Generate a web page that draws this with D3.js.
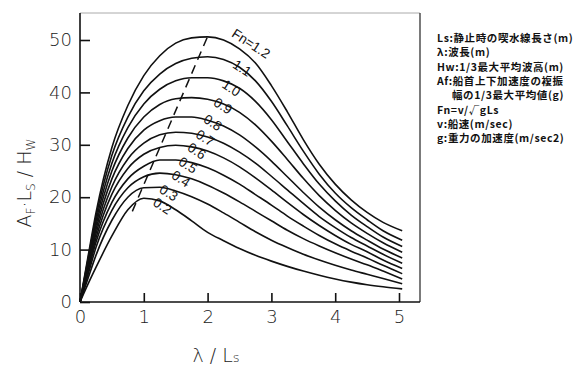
<!DOCTYPE html>
<html><head><meta charset="utf-8">
<script src="https://cdn.jsdelivr.net/npm/d3@7/dist/d3.min.js"></script>
<style>body{margin:0;background:#fff}svg{display:block}</style>
</head><body>
<svg id="c" width="585" height="367"></svg>
<script>
// ---- data ----
const lambda = [0, 0.125, 0.25, 0.5, 0.75, 1.0, 1.25, 1.5, 1.75, 2.0, 2.25, 2.5, 2.75, 3.0, 3.25, 3.5, 3.75, 4.0, 4.25, 4.5, 4.75, 5.05];
const fn = [0.2, 0.3, 0.4, 0.5, 0.6, 0.7, 0.8, 0.9, 1.0, 1.1, 1.2];
const fn02 = [0, 3.4, 6.6, 12.6, 17.6, 19.8, 19.3, 17.6, 15.5, 13.3, 11.7, 10.2, 8.9, 7.8, 6.8, 5.9, 5.1, 4.4, 3.8, 3.3, 2.9, 2.5];
const fn03 = [0, 4.5, 8.9, 15.6, 20.0, 21.8, 21.9, 21.2, 20.1, 18.7, 17.0, 15.2, 13.4, 11.8, 10.4, 9.1, 8.0, 7.0, 6.1, 5.3, 4.5, 3.5];
const fn04 = [0, 5.2, 10.4, 17.5, 21.8, 23.9, 24.6, 24.3, 23.5, 22.3, 20.8, 19.1, 17.3, 15.5, 13.7, 12.1, 10.7, 9.4, 8.2, 7.1, 5.9, 4.4];
const fn05 = [0, 5.8, 11.4, 19.0, 23.5, 25.9, 27.1, 27.1, 26.6, 25.6, 24.2, 22.5, 20.5, 18.5, 16.4, 14.5, 12.7, 11.1, 9.7, 8.4, 7.0, 5.4];
const fn06 = [0, 6.2, 12.2, 20.6, 25.5, 28.2, 29.5, 29.9, 29.6, 28.8, 27.5, 25.8, 23.7, 21.4, 19.0, 16.7, 14.6, 12.7, 11.0, 9.6, 8.0, 6.4];
const fn07 = [0, 6.6, 13.0, 22.0, 27.3, 30.3, 31.9, 32.4, 32.2, 31.5, 30.3, 28.6, 26.5, 24.0, 21.4, 18.8, 16.3, 14.2, 12.3, 10.7, 9.1, 7.4];
const fn08 = [0, 7.0, 13.8, 23.5, 29.3, 32.8, 34.6, 35.3, 35.3, 34.7, 33.6, 31.9, 29.6, 26.9, 23.9, 20.9, 18.1, 15.7, 13.6, 11.8, 10.1, 8.4];
const fn09 = [0, 7.4, 14.6, 25.0, 31.3, 35.3, 37.7, 38.8, 39.0, 38.7, 37.8, 36.2, 33.8, 30.7, 27.2, 23.6, 20.3, 17.5, 15.1, 13.1, 11.3, 9.5];
const fn10 = [0, 7.8, 15.4, 26.5, 33.3, 37.8, 40.6, 42.2, 42.8, 42.8, 42.2, 40.8, 38.3, 34.8, 30.6, 26.4, 22.5, 19.3, 16.6, 14.4, 12.4, 10.6];
const fn11 = [0, 8.2, 16.2, 28.0, 35.3, 40.3, 43.5, 45.5, 46.5, 46.8, 46.3, 44.8, 42.2, 38.3, 33.6, 28.8, 24.4, 20.8, 18.0, 15.7, 13.6, 11.8];
const fn12 = [0, 8.6, 17.0, 29.5, 37.5, 43.2, 47.0, 49.4, 50.4, 50.6, 50.0, 48.3, 45.6, 41.3, 36.3, 31.0, 26.3, 22.5, 19.5, 17.1, 15.2, 13.6];
const seriesValues = [fn02, fn03, fn04, fn05, fn06, fn07, fn08, fn09, fn10, fn11, fn12];
const curveLabels = ["0.2", "0.3", "0.4", "0.5", "0.6", "0.7", "0.8", "0.9", "1.0", "1.1", "Fn=1.2"];
const labelLambda = [1.29, 1.39, 1.58, 1.69, 1.83, 1.96, 2.08, 2.24, 2.37, 2.54, 2.68];
const labelValue  = [18.3, 20.8, 23.5, 26.1, 28.8, 31.3, 34.2, 37.4, 40.8, 44.6, 49.3];
const peakLine = {lambda: [0.82, 2.03], value: [17.3, 51.5]};
const xTicks = [0, 1, 2, 3, 4, 5];
const yTicks = [0, 10, 20, 30, 40, 50];
const legendLines = [
  "Ls:静止時の喫水線長さ(m)",
  "λ:波長(m)",
  "Hw:1/3最大平均波高(m)",
  "Af:船首上下加速度の複振",
  "幅の1/3最大平均値(g)",
  "Fn=v/√gLs",
  "v:船速(m/sec)",
  "g:重力の加速度(m/sec2)"
];

// ---- drawing ----
const svg = d3.select("#c");
const x = d3.scaleLinear().domain([0, 5]).range([80, 399]);
const y = d3.scaleLinear().domain([0, 50]).range([302, 40]);
const ink = "#111";

svg.append("rect").attr("width", 585).attr("height", 367).attr("fill", "#fff");

// frame
svg.append("line").attr("x1", 80).attr("x2", 420).attr("y1", 13).attr("y2", 13)
  .attr("stroke", "#aaa").attr("stroke-width", 1);
svg.append("line").attr("x1", 420).attr("x2", 420).attr("y1", 13).attr("y2", 302)
  .attr("stroke", "#333").attr("stroke-width", 1.3);

// axes
const gx = svg.append("g").attr("transform", "translate(0,302)")
  .call(d3.axisBottom(x).tickValues(xTicks).tickFormat(d3.format("d")).tickSizeInner(-9).tickSizeOuter(0).tickPadding(8));
const gy = svg.append("g").attr("transform", "translate(80,0)")
  .call(d3.axisLeft(y).tickValues(yTicks).tickSizeInner(-10).tickSizeOuter(0).tickPadding(8));
gx.select(".domain").attr("d", "M80,0H420");
gy.select(".domain").attr("d", "M0,13V302");
[gx, gy].forEach(g => {
  g.selectAll(".domain, .tick line").attr("stroke", ink).attr("stroke-width", 1.6);
  g.selectAll(".tick text").attr("font-family", "DejaVu Sans").attr("font-size", 18)
    .attr("font-weight", 200).attr("fill", "#222");
});

// curves
const line = d3.line().x(d => x(d[0])).y(d => y(d[1])).curve(d3.curveMonotoneX);
seriesValues.forEach(vals => {
  svg.append("path").datum(lambda.map((l, i) => [l, vals[i]]))
    .attr("d", line).attr("fill", "none").attr("stroke", ink).attr("stroke-width", 1.6);
});

// dashed peak line
svg.append("line")
  .attr("x1", x(peakLine.lambda[0])).attr("y1", y(peakLine.value[0]))
  .attr("x2", x(peakLine.lambda[1])).attr("y2", y(peakLine.value[1]))
  .attr("stroke", ink).attr("stroke-width", 1.5).attr("stroke-dasharray", "9,6");

// curve labels
curveLabels.forEach((t, i) => {
  const px = x(labelLambda[i]), py = y(labelValue[i]);
  svg.append("text").attr("transform", `translate(${px},${py}) rotate(33)`)
    .attr("text-anchor", "middle").attr("dominant-baseline", "central")
    .attr("font-family", "Liberation Sans, Arial, sans-serif").attr("font-size", 13.5)
    .attr("fill", ink).text(t);
});

// axis titles
const yt = svg.append("text").attr("transform", "translate(31,183) rotate(-90)")
  .attr("text-anchor", "middle").attr("font-family", "DejaVu Sans").attr("font-weight", 200)
  .attr("font-size", 19).attr("fill", "#222");
yt.append("tspan").text("A");
yt.append("tspan").attr("font-size", 12).attr("dy", 4).text("F");
yt.append("tspan").attr("dy", -4).text("·L");
yt.append("tspan").attr("font-size", 12).attr("dy", 4).text("S");
yt.append("tspan").attr("dy", -4).text(" / H");
yt.append("tspan").attr("font-size", 12).attr("dy", 4).text("W");

const xt = svg.append("text").attr("x", 216).attr("y", 362)
  .attr("text-anchor", "middle").attr("font-family", "DejaVu Sans").attr("font-weight", 200)
  .attr("font-size", 19).attr("fill", "#222");
xt.append("tspan").text("λ / L");
xt.append("tspan").attr("font-size", 13).text("s");

// legend
legendLines.forEach((t, i) => {
  svg.append("text").attr("x", i === 4 ? 452 : 437).attr("y", 42 + i * 14.3)
    .attr("font-family", "Noto Sans CJK JP").attr("font-size", 10.5).attr("font-weight", 700)
    .attr("letter-spacing", 0.6).attr("fill", ink).text(t);
});
</script>
</body></html>
